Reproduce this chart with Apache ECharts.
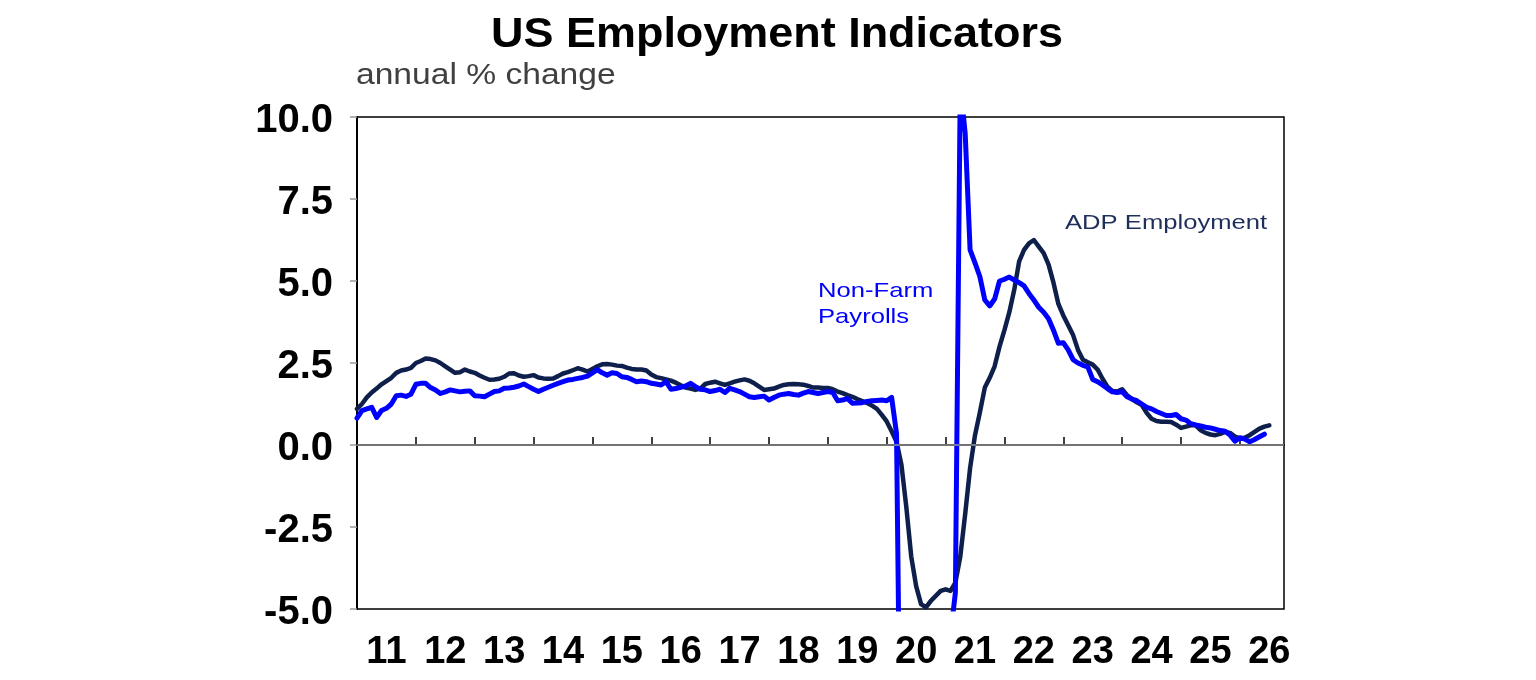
<!DOCTYPE html>
<html>
<head>
<meta charset="utf-8">
<title>US Employment Indicators</title>
<script src="https://cdn.jsdelivr.net/npm/echarts@6/dist/echarts.min.js"></script>
<style>
  html, body { margin: 0; padding: 0; background: #fff; }
  #chart { width: 1536px; height: 680px; }
</style>
</head>
<body>
<div id="chart"></div>
<script>
// monthly, Jan 2011 onwards (annual % change)
const adpEmployment = [
  1.10, 1.25, 1.45, 1.60, 1.72, 1.85, 1.95, 2.05, 2.20, 2.27, 2.30, 2.35, // 2011
  2.50, 2.56, 2.64, 2.62, 2.58, 2.50, 2.40, 2.30, 2.20, 2.22, 2.30, 2.24, // 2012
  2.20, 2.12, 2.05, 1.99, 2.00, 2.02, 2.08, 2.18, 2.19, 2.12, 2.08, 2.10, // 2013
  2.13, 2.06, 2.03, 2.02, 2.03, 2.10, 2.18, 2.22, 2.28, 2.34, 2.30, 2.24, // 2014
  2.32, 2.40, 2.46, 2.47, 2.45, 2.42, 2.41, 2.36, 2.32, 2.30, 2.30, 2.27, // 2015
  2.15, 2.07, 2.04, 2.00, 1.96, 1.90, 1.82, 1.75, 1.72, 1.68, 1.72, 1.86, // 2016
  1.90, 1.93, 1.88, 1.83, 1.88, 1.93, 1.97, 2.00, 1.96, 1.88, 1.78, 1.68, // 2017
  1.70, 1.72, 1.78, 1.83, 1.85, 1.86, 1.85, 1.84, 1.80, 1.75, 1.75, 1.74, // 2018
  1.74, 1.70, 1.63, 1.58, 1.52, 1.47, 1.40, 1.34, 1.28, 1.20, 1.10, 0.92, // 2019
  0.72, 0.42, 0.10, -0.60, -1.90, -3.40, -4.30, -4.85, -4.95, -4.75, -4.60, -4.45, // 2020
  -4.40, -4.45, -4.20, -3.40, -2.10, -0.70, 0.30, 1.00, 1.75, 2.05, 2.40, 3.00, // 2021
  3.50, 4.05, 4.73, 5.60, 5.95, 6.15, 6.25, 6.05, 5.85, 5.50, 4.95, 4.30, // 2022
  3.95, 3.65, 3.35, 2.90, 2.60, 2.52, 2.45, 2.30, 2.02, 1.78, 1.65, 1.63, // 2023
  1.70, 1.52, 1.40, 1.30, 1.22, 0.98, 0.80, 0.73, 0.71, 0.71, 0.70, 0.62, // 2024
  0.52, 0.56, 0.60, 0.60, 0.45, 0.37, 0.32, 0.30, 0.34, 0.40, 0.37, 0.26, // 2025
  0.20, 0.22, 0.30, 0.40, 0.50, 0.56, 0.60                                 // 2026
];

const nonFarmPayrolls = [
  0.82, 1.05, 1.10, 1.15, 0.84, 1.05, 1.12, 1.25, 1.50, 1.52, 1.48, 1.55, // 2011
  1.85, 1.88, 1.88, 1.75, 1.68, 1.57, 1.62, 1.68, 1.65, 1.62, 1.64, 1.65, // 2012
  1.50, 1.49, 1.47, 1.55, 1.63, 1.65, 1.73, 1.74, 1.76, 1.80, 1.86, 1.78, // 2013
  1.70, 1.63, 1.70, 1.76, 1.82, 1.88, 1.93, 1.98, 2.00, 2.03, 2.06, 2.10, // 2014
  2.20, 2.30, 2.20, 2.13, 2.20, 2.18, 2.08, 2.06, 2.00, 1.93, 1.95, 1.93, // 2015
  1.88, 1.86, 1.83, 1.93, 1.70, 1.72, 1.76, 1.80, 1.88, 1.78, 1.70, 1.68, // 2016
  1.63, 1.66, 1.70, 1.60, 1.73, 1.68, 1.63, 1.55, 1.47, 1.45, 1.47, 1.49, // 2017
  1.37, 1.45, 1.52, 1.55, 1.57, 1.54, 1.52, 1.58, 1.63, 1.60, 1.57, 1.60, // 2018
  1.63, 1.60, 1.35, 1.37, 1.42, 1.27, 1.28, 1.29, 1.33, 1.35, 1.36, 1.37, // 2019
  1.35, 1.45, 0.35, -13.0, -11.5, -9.0, -7.7, -7.0, -6.5, -6.1, -6.0, -6.2, // 2020
  -6.1, -5.8, -4.5, 11.0, 9.5, 5.95, 5.55, 5.13, 4.42, 4.24, 4.45, 5.00, // 2021
  5.05, 5.12, 5.03, 4.95, 4.85, 4.62, 4.42, 4.20, 4.05, 3.85, 3.50, 3.10, // 2022
  3.12, 2.90, 2.60, 2.50, 2.43, 2.38, 2.00, 1.93, 1.83, 1.72, 1.62, 1.60, // 2023
  1.63, 1.47, 1.40, 1.35, 1.25, 1.15, 1.10, 1.02, 0.96, 0.90, 0.90, 0.93, // 2024
  0.80, 0.76, 0.65, 0.61, 0.58, 0.54, 0.52, 0.48, 0.44, 0.42, 0.30, 0.12, // 2025
  0.22, 0.18, 0.10, 0.17, 0.25, 0.33                                       // 2026
];

const yearLabels = ['11', '12', '13', '14', '15', '16', '17', '18',
                    '19', '20', '21', '22', '23', '24', '25', '26'];

// month categories, the axis runs to Oct 2026
const months = [];
yearLabels.forEach(function (yy) {
  for (let m = 1; m <= 12; m++) months.push('20' + yy + '-' + (m < 10 ? '0' + m : m));
});
months.length = 190;

const NAVY = '#0f1f4b';
const BLUE = '#0000ff';
const FONT = '"Liberation Sans", Arial, sans-serif';

const chart = echarts.init(document.getElementById('chart'));
chart.setOption({
  animation: false,
  backgroundColor: '#fff',
  grid: {
    left: 357, right: 252, top: 117, bottom: 71,
    show: true, borderColor: '#000', borderWidth: 1.5, backgroundColor: 'transparent'
  },
  xAxis: {
    type: 'category',
    data: months,
    boundaryGap: false,
    axisLine: { lineStyle: { color: '#000', width: 2 } },
    axisTick: {
      show: true, inside: true, length: 8,
      interval: function (idx) { return idx % 12 === 0; },
      lineStyle: { color: '#000', width: 1.5 }
    },
    axisLabel: {
      interval: function (idx) { return idx % 12 === 6; },
      formatter: function (val) { return val.slice(2, 4); },
      margin: 25,
      color: '#000',
      fontFamily: FONT,
      fontWeight: 'bold',
      fontSize: 38
    },
    splitLine: { show: false }
  },
  yAxis: {
    type: 'value',
    min: -5, max: 10, interval: 2.5,
    axisLine: { show: true, lineStyle: { color: '#000', width: 2 } },
    axisTick: { show: true, length: 7, lineStyle: { color: '#999', width: 1.5 } },
    axisLabel: {
      formatter: function (v) { return '{v|' + v.toFixed(1) + '}'; },
      margin: 24,
      rich: {
        v: {
          padding: [7, 0, 0, 0],
          color: '#000',
          fontFamily: FONT,
          fontWeight: 'bold',
          fontSize: 40
        }
      }
    },
    splitLine: { show: false }
  },
  series: [
    {
      name: 'zero',
      type: 'line',
      data: [],
      z: 1,
      silent: true,
      markLine: {
        silent: true,
        symbol: 'none',
        label: { show: false },
        lineStyle: { color: '#9a9a9a', width: 1.5, type: 'solid' },
        data: [{ yAxis: 0 }]
      }
    },
    {
      name: 'ADP Employment',
      type: 'line',
      data: adpEmployment,
      showSymbol: false,
      symbol: 'none',
      z: 3,
      lineStyle: { color: NAVY, width: 4.5, join: 'round', cap: 'round' }
    },
    {
      name: 'Non-Farm Payrolls',
      type: 'line',
      data: nonFarmPayrolls,
      showSymbol: false,
      symbol: 'none',
      z: 4,
      lineStyle: { color: BLUE, width: 5, join: 'round', cap: 'round' }
    }
  ],
  graphic: [
    {
      type: 'text', x: 777, y: 14, scaleX: 1.07,
      style: { text: 'US Employment Indicators', font: 'bold 42px ' + FONT, fill: '#000', align: 'center', verticalAlign: 'top' }
    },
    {
      type: 'text', x: 356, y: 61, scaleX: 1.12,
      style: { text: 'annual % change', font: '30px ' + FONT, fill: '#404040', align: 'left', verticalAlign: 'top' }
    },
    {
      type: 'text', x: 818, y: 281, scaleX: 1.22,
      style: { text: 'Non-Farm', font: '21px ' + FONT, fill: BLUE, align: 'left', verticalAlign: 'top' }
    },
    {
      type: 'text', x: 818, y: 307, scaleX: 1.22,
      style: { text: 'Payrolls', font: '21px ' + FONT, fill: BLUE, align: 'left', verticalAlign: 'top' }
    },
    {
      type: 'text', x: 1065, y: 213, scaleX: 1.22,
      style: { text: 'ADP Employment', font: '21px ' + FONT, fill: '#1f2f5c', align: 'left', verticalAlign: 'top' }
    }
  ]
});
</script>
</body>
</html>
